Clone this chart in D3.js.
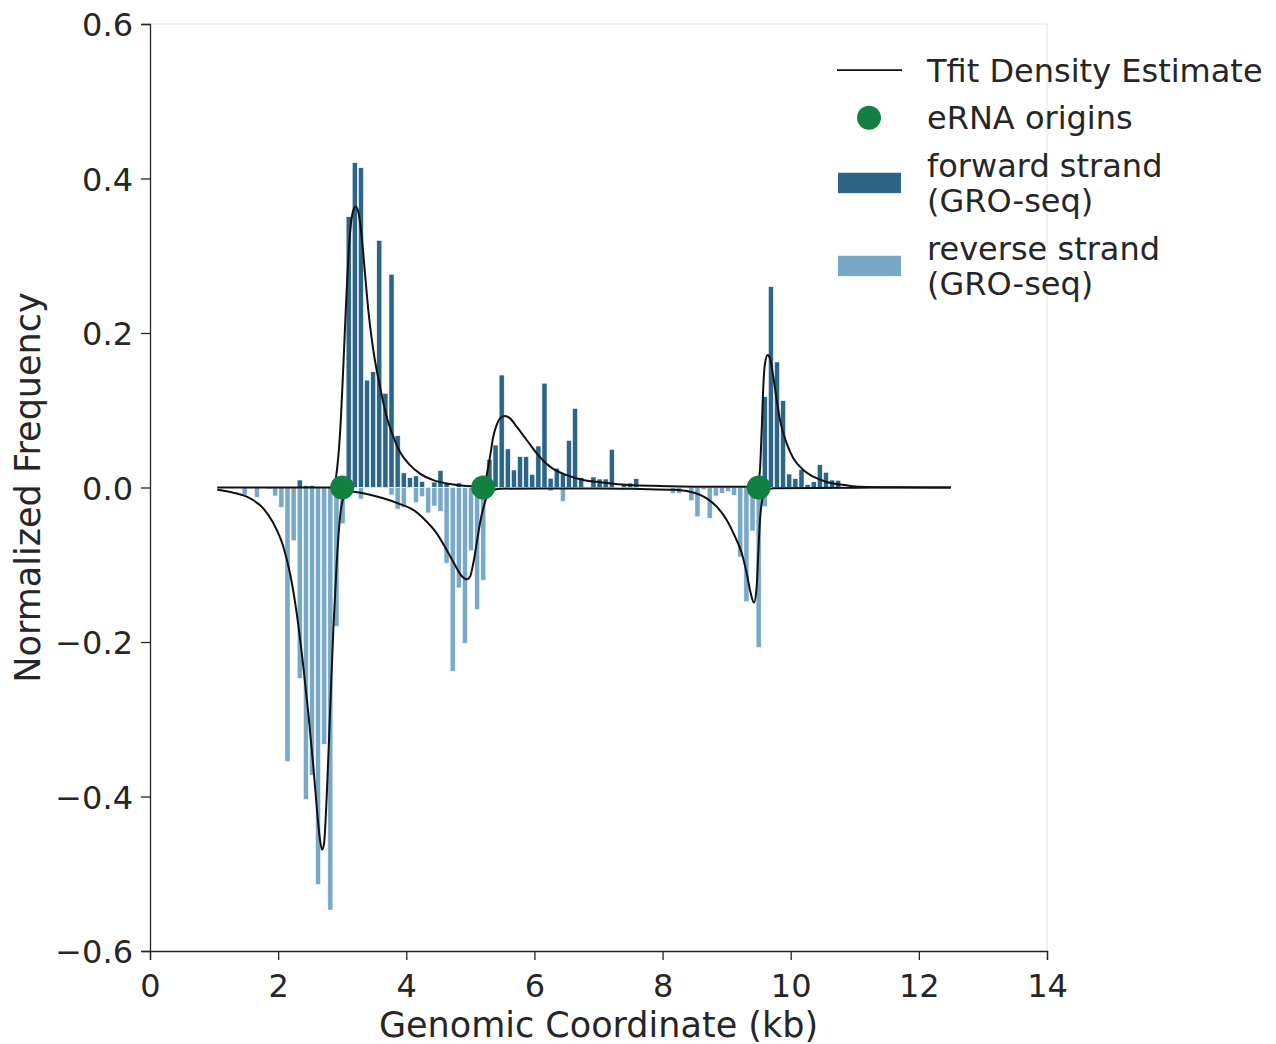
<!DOCTYPE html>
<html>
<head>
<meta charset="utf-8">
<script src="https://cdn.jsdelivr.net/npm/d3@7"></script>
<style>
  html, body { margin: 0; padding: 0; background: #fff; }
  svg { display: block; font-family: "DejaVu Sans", sans-serif; }
</style>
</head>
<body>
<svg id="chart" width="1276" height="1044"></svg>
<script>
// Histogram bins (kb): centres start at binStartKb and step by binWidthKb
const binStartKb = 1.4775;
const binWidthKb = 0.0955;

// Normalized GRO-seq read frequency per bin, forward strand (positive)
const forwardStrand = [
  0, 0, 0, 0, 0, 0, 0, 0, 0,                       // 5-13
  0.0097, 0.0024, 0.0024, 0, 0, 0, 0, 0,            // 14-21
  0.3506, 0.4205, 0.414, 0.139, 0.150, 0.320, 0.122, 0.276, // 22-29
  0.067, 0.019, 0.0127, 0.015, 0.0078, 0, 0.007, 0.022,     // 30-37
  0.005, 0, 0.006, 0, 0, 0, 0,                      // 38-44
  0.0365, 0.055, 0.1456, 0.050, 0.0227, 0.040, 0.040, 0.017, // 45-52
  0.0537, 0.135, 0.012, 0.025, 0.0175, 0.061, 0.1025, 0.013, // 53-60
  0, 0.0136, 0.011, 0.011, 0.0494, 0, 0.0045, 0.0058, 0.0114, // 61-69
  0, 0, 0, 0, 0, 0, 0, 0, 0, 0, 0, 0, 0, 0, 0, 0,   // 70-85
  0.002, 0, 0, 0,                                   // 86-89
  0.1176, 0.26, 0.1625, 0.1124, 0.0175, 0.0114, 0.0235, 0.004, // 90-97
  0.0075, 0.0296, 0.0197, 0.0097, 0.0093            // 98-102
];

// Normalized GRO-seq read frequency per bin, reverse strand (negative)
const reverseStrand = [
  -0.0097, 0, -0.0127, 0, -0.002, -0.011, -0.0257, // 5-11
  -0.355, -0.069, -0.247, -0.404, -0.3726, -0.514, -0.3325, -0.547, // 12-19
  -0.180, -0.047, 0, 0, -0.015, -0.001, 0, 0, 0,    // 20-28
  -0.0097, -0.028, -0.026, 0, -0.0197, -0.012, -0.033, -0.024, -0.031, // 29-37
  -0.098, -0.238, -0.130, -0.2017, -0.082, -0.158, -0.120, -0.01, // 38-45
  0, 0, 0, 0, 0, 0, 0, 0, 0, -0.0045, 0, -0.018,    // 46-57
  0, 0, 0, 0, 0, 0, 0, 0, 0, 0, 0, 0, 0, 0, 0, 0, 0, // 58-74
  -0.0076, -0.0076, 0, -0.017, -0.038, -0.003, -0.040, -0.011, // 75-82
  -0.0076, -0.0054, -0.0101, -0.090, -0.148, -0.0563, -0.2073, -0.0248, // 83-90
  0, -0.0013, 0, 0, 0, 0, 0, 0, 0, 0, 0            // 91-102
];

// Tfit model density, forward component: [kb, value]
const tfitForward = [
  [1.05, 0], [2.81, 0], [2.856, 0.001], [2.914, 0.02], [2.966, 0.07],
  [3.017, 0.156], [3.070, 0.256], [3.122, 0.329], [3.173, 0.359], [3.210, 0.3635],
  [3.251, 0.357], [3.304, 0.325], [3.356, 0.277], [3.407, 0.230], [3.485, 0.178],
  [3.590, 0.1305], [3.694, 0.0917], [3.797, 0.0658], [3.902, 0.046], [4.058, 0.029],
  [4.214, 0.018], [4.422, 0.0095], [4.682, 0.0045], [4.943, 0.002], [5.151, 0.0015],
  [5.229, 0.006], [5.255, 0.016], [5.307, 0.040], [5.358, 0.066], [5.411, 0.081],
  [5.463, 0.0895], [5.541, 0.0925], [5.619, 0.0895], [5.723, 0.0787], [5.879, 0.0615],
  [6.036, 0.0443], [6.243, 0.027], [6.504, 0.016], [6.763, 0.0097], [7.023, 0.0067],
  [7.543, 0.0028], [7.960, 0.002], [8.584, 0.001], [9.442, 0.001], [9.489, 0.004],
  [9.520, 0.0227], [9.547, 0.0744], [9.572, 0.1305], [9.599, 0.161], [9.641, 0.1715],
  [9.677, 0.167], [9.728, 0.1434], [9.781, 0.1133], [9.833, 0.0874], [9.937, 0.0572],
  [10.041, 0.0378], [10.197, 0.0227], [10.353, 0.014], [10.562, 0.0071], [10.874, 0.0028],
  [11.082, 0.001], [11.706, 0.0003], [12.50, 0]
];

// Tfit model density, reverse component: [kb, value]
const tfitReverse = [
  [1.05, -0.003], [1.30, -0.0067], [1.561, -0.014], [1.768, -0.027], [1.924, -0.046],
  [2.081, -0.0766], [2.185, -0.111], [2.290, -0.163], [2.393, -0.232], [2.471, -0.292],
  [2.549, -0.361], [2.611, -0.422], [2.653, -0.456], [2.685, -0.469], [2.716, -0.461],
  [2.758, -0.400], [2.810, -0.292], [2.861, -0.1845], [2.914, -0.098], [2.966, -0.038],
  [3.017, -0.014], [3.090, -0.006], [3.173, -0.0055], [3.382, -0.0085], [3.641, -0.014],
  [3.902, -0.0215], [4.110, -0.029], [4.319, -0.0443], [4.475, -0.0593], [4.631, -0.081],
  [4.760, -0.1003], [4.865, -0.1146], [4.943, -0.1189], [4.995, -0.1155], [5.046, -0.098],
  [5.099, -0.072], [5.151, -0.046], [5.202, -0.027], [5.255, -0.012], [5.333, -0.004],
  [5.463, -0.0015], [7.023, -0.0012], [7.648, -0.002], [8.168, -0.003], [8.428, -0.0054],
  [8.689, -0.014], [8.845, -0.0248], [9.001, -0.042], [9.131, -0.0637], [9.236, -0.085],
  [9.313, -0.111], [9.376, -0.137], [9.427, -0.149], [9.469, -0.128], [9.494, -0.085],
  [9.520, -0.042], [9.547, -0.0205], [9.599, -0.0054], [9.728, -0.001], [11.082, -0.0002],
  [12.50, 0]
];

// Estimated eRNA origins (kb)
const ernaOrigins = [3.0, 5.2, 9.5];

const xTicks = [0, 2, 4, 6, 8, 10, 12, 14];
const yTicks = [-0.6, -0.4, -0.2, 0.0, 0.2, 0.4, 0.6];

const legendItems = [
  { kind: "line", lines: ["Tfit Density Estimate"] },
  { kind: "dot", lines: ["eRNA origins"] },
  { kind: "forward", lines: ["forward strand", "(GRO-seq)"] },
  { kind: "reverse", lines: ["reverse strand", "(GRO-seq)"] }
];

const colors = {
  forward: "#2c6586",
  reverse: "#7aa9c7",
  origin: "#12803f",
  curve: "#111111",
  text: "#262626",
  spine: "#262626",
  lightSpine: "#e4e4e4"
};

const svg = d3.select("#chart");
const plot = { left: 150, right: 1047, top: 24, bottom: 951 };

const x = d3.scaleLinear().domain([0, 14]).range([plot.left, plot.right]);
const y = d3.scaleLinear().domain([-0.6, 0.6]).range([plot.bottom, plot.top]);

// light top/right frame
svg.append("line")
  .attr("x1", plot.left).attr("x2", plot.right)
  .attr("y1", plot.top).attr("y2", plot.top)
  .attr("stroke", colors.lightSpine).attr("stroke-width", 1);
svg.append("line")
  .attr("x1", plot.right).attr("x2", plot.right)
  .attr("y1", plot.top).attr("y2", plot.bottom)
  .attr("stroke", colors.lightSpine).attr("stroke-width", 1);

// histogram bars
const barW = x(binWidthKb * 0.84) - x(0);
function drawBars(values, color) {
  svg.append("g")
    .selectAll("rect")
    .data(values)
    .join("rect")
    .attr("x", (d, i) => x(binStartKb + i * binWidthKb) - barW / 2)
    .attr("y", d => y(Math.max(0, d)))
    .attr("width", barW)
    .attr("height", d => Math.abs(y(d) - y(0)))
    .attr("fill", color)
    .attr("stroke", "#ffffff")
    .attr("stroke-width", 0.6);
}
drawBars(forwardStrand, colors.forward);
drawBars(reverseStrand, colors.reverse);

// model density curves
const line = d3.line()
  .x(d => x(d[0]))
  .y(d => y(d[1]))
  .curve(d3.curveMonotoneX);
[tfitForward, tfitReverse].forEach(pts => {
  svg.append("path")
    .datum(pts)
    .attr("d", line)
    .attr("fill", "none")
    .attr("stroke", colors.curve)
    .attr("stroke-width", 2)
    .attr("stroke-linejoin", "round");
});

// origin markers
svg.append("g")
  .selectAll("circle")
  .data(ernaOrigins)
  .join("circle")
  .attr("cx", d => x(d))
  .attr("cy", y(0))
  .attr("r", 12)
  .attr("fill", colors.origin);

// axes
const fontSize = 32;
const xAxis = svg.append("g")
  .attr("transform", `translate(0,${plot.bottom})`)
  .call(d3.axisBottom(x).tickValues(xTicks).tickSize(9).tickPadding(13).tickFormat(d3.format("d")));
const yAxis = svg.append("g")
  .attr("transform", `translate(${plot.left},0)`)
  .call(d3.axisLeft(y).tickValues(yTicks).tickSize(9).tickPadding(8)
    .tickFormat(d => d3.format(".1f")(d).replace("-", "\u2212")));

[xAxis, yAxis].forEach(g => {
  g.select(".domain").attr("stroke", colors.spine).attr("stroke-width", 1.3);
  g.selectAll(".tick line").attr("stroke", colors.spine).attr("stroke-width", 1.3);
  g.selectAll(".tick text")
    .attr("fill", colors.text)
    .style("font-size", fontSize + "px")
    .style("font-family", "'DejaVu Sans', sans-serif");
});
yAxis.selectAll(".tick text").attr("dy", "0.36em");
xAxis.selectAll(".tick text").attr("dy", "0.76em");

// axis titles
svg.append("text")
  .attr("x", (plot.left + plot.right) / 2)
  .attr("y", 1037)
  .attr("text-anchor", "middle")
  .attr("fill", colors.text)
  .style("font-size", "35px")
  .text("Genomic Coordinate (kb)");

svg.append("text")
  .attr("transform", `translate(40,${(plot.top + plot.bottom) / 2}) rotate(-90)`)
  .attr("text-anchor", "middle")
  .attr("fill", colors.text)
  .style("font-size", "35px")
  .text("Normalized Frequency");

// legend
const legend = svg.append("g");
const legX = 838, legTextX = 927, lineGap = 35.5, entryGap = 47.5;
let baseline = 81.7;
legendItems.forEach(item => {
  const n = item.lines.length;
  const centerY = baseline - 11.5 + (n - 1) * lineGap / 2;
  if (item.kind === "line") {
    legend.append("line")
      .attr("x1", legX - 1).attr("x2", legX + 64)
      .attr("y1", centerY).attr("y2", centerY)
      .attr("stroke", colors.curve).attr("stroke-width", 1.8);
  } else if (item.kind === "dot") {
    legend.append("circle")
      .attr("cx", legX + 31).attr("cy", centerY)
      .attr("r", 12).attr("fill", colors.origin);
  } else {
    legend.append("rect")
      .attr("x", legX).attr("y", centerY - 10.2)
      .attr("width", 63).attr("height", 20.4)
      .attr("fill", item.kind === "forward" ? colors.forward : colors.reverse);
  }
  item.lines.forEach((t, j) => {
    legend.append("text")
      .attr("x", legTextX)
      .attr("y", baseline + j * lineGap)
      .attr("fill", colors.text)
      .style("font-size", fontSize + "px")
      .text(t);
  });
  baseline += (n - 1) * lineGap + entryGap;
});
</script>
</body>
</html>
